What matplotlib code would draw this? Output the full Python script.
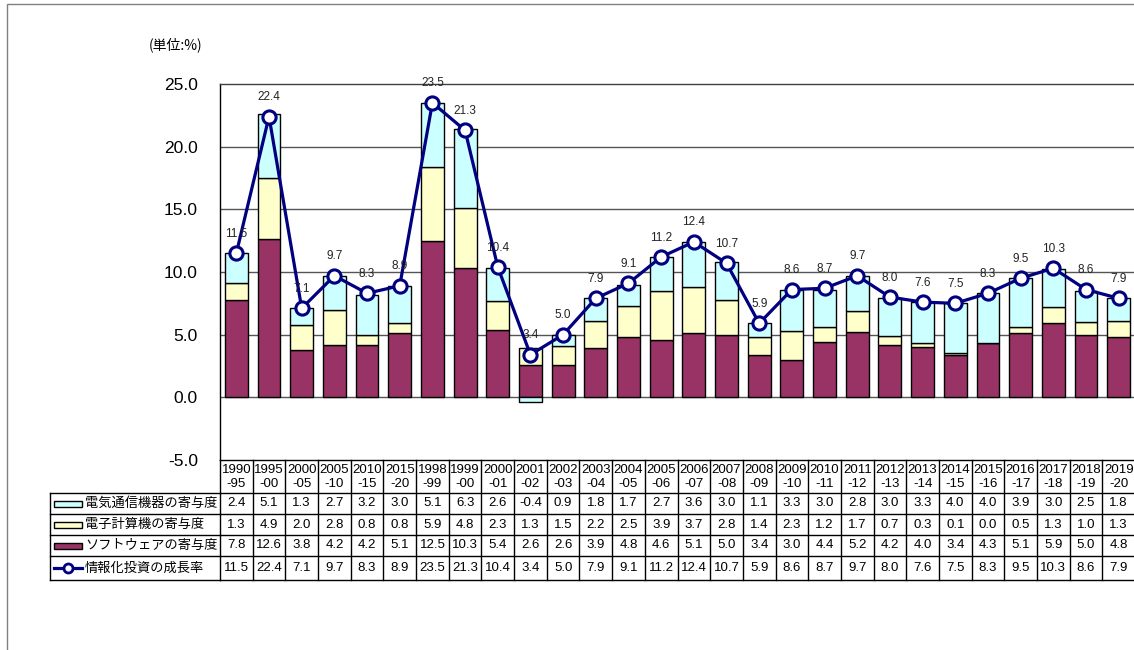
import matplotlib
matplotlib.use('Agg')
import matplotlib.pyplot as plt
from matplotlib.transforms import blended_transform_factory
from matplotlib.lines import Line2D
from matplotlib.patches import Rectangle
import numpy as np

# ---------------- data ----------------
periods = ["1990\n-95", "1995\n-00", "2000\n-05", "2005\n-10", "2010\n-15", "2015\n-20",
           "1998\n-99", "1999\n-00", "2000\n-01", "2001\n-02", "2002\n-03", "2003\n-04",
           "2004\n-05", "2005\n-06", "2006\n-07", "2007\n-08", "2008\n-09", "2009\n-10",
           "2010\n-11", "2011\n-12", "2012\n-13", "2013\n-14", "2014\n-15", "2015\n-16",
           "2016\n-17", "2017\n-18", "2018\n-19", "2019\n-20"]
telecom = [2.4, 5.1, 1.3, 2.7, 3.2, 3.0, 5.1, 6.3, 2.6, -0.4, 0.9, 1.8, 1.7, 2.7,
           3.6, 3.0, 1.1, 3.3, 3.0, 2.8, 3.0, 3.3, 4.0, 4.0, 3.9, 3.0, 2.5, 1.8]
computer = [1.3, 4.9, 2.0, 2.8, 0.8, 0.8, 5.9, 4.8, 2.3, 1.3, 1.5, 2.2, 2.5, 3.9,
            3.7, 2.8, 1.4, 2.3, 1.2, 1.7, 0.7, 0.3, 0.1, 0.0, 0.5, 1.3, 1.0, 1.3]
software = [7.8, 12.6, 3.8, 4.2, 4.2, 5.1, 12.5, 10.3, 5.4, 2.6, 2.6, 3.9, 4.8, 4.6,
            5.1, 5.0, 3.4, 3.0, 4.4, 5.2, 4.2, 4.0, 3.4, 4.3, 5.1, 5.9, 5.0, 4.8]
growth = [11.5, 22.4, 7.1, 9.7, 8.3, 8.9, 23.5, 21.3, 10.4, 3.4, 5.0, 7.9, 9.1, 11.2,
          12.4, 10.7, 5.9, 8.6, 8.7, 9.7, 8.0, 7.6, 7.5, 8.3, 9.5, 10.3, 8.6, 7.9]
series_names = ["電気通信機器の寄与度", "電子計算機の寄与度", "ソフトウェアの寄与度", "情報化投資の成長率"]
yticks = [-5, 0, 5, 10, 15, 20, 25]
unit_label = "(単位:%)"

# ---------------- style ----------------
C_TEL = '#CCFFFF'
C_COM = '#FFFFCC'
C_SOF = '#993366'
C_LINE = '#000080'
JP = ['Noto Sans CJK JP', 'DejaVu Sans']
NUM = ['Liberation Sans', 'DejaVu Sans']
plt.rcParams['font.family'] = NUM

W, H = 1134, 650
fig = plt.figure(figsize=(W / 100, H / 100), dpi=100)
fig.patch.set_facecolor('white')


def fx(px):
    return px / W


def fy(py):
    return 1 - py / H


# outer frame of the chart object (partly cut off)
fig.add_artist(Rectangle((fx(6.5), fy(700)), fx(1200), fy(3.5) - fy(700),
                         transform=fig.transFigure, fill=False,
                         edgecolor='#808080', lw=1.0))

ax = fig.add_axes([fx(220), fy(460), fx(1135) - fx(220), fy(84) - fy(460)])
n = len(periods)
x = np.arange(n)
tel = np.array(telecom)
com = np.array(computer)
sof = np.array(software)

bw = 0.7
ax.bar(x, sof, width=bw, color=C_SOF, edgecolor='black', lw=1.0, zorder=3)
ax.bar(x, com, width=bw, bottom=sof, color=C_COM, edgecolor='black', lw=1.0, zorder=3)
tel_bottom = np.where(tel >= 0, sof + com, 0)
ax.bar(x, tel, width=bw, bottom=tel_bottom, color=C_TEL, edgecolor='black', lw=1.0, zorder=3)

ax.plot(x, growth, color=C_LINE, lw=2.3, marker='o', ms=9.5, mfc='white',
        mec=C_LINE, mew=2.2, zorder=5, clip_on=False)
for xi, g in zip(x, growth):
    ax.annotate(f"{g:.1f}", (xi, g), xytext=(0, 14), textcoords='offset points',
                ha='center', va='center', fontsize=8.5, color='#222222', zorder=6)

ax.set_xlim(-0.5, n - 0.5)
ax.set_ylim(-5, 25)
ax.set_yticks(yticks)
ax.set_yticklabels([f"{v:.1f}" for v in yticks], fontsize=12.5)
ax.tick_params(axis='y', length=0, pad=16)
ax.set_xticks([])
for v in yticks[1:-1]:
    ax.axhline(v, color='#555555', lw=1.0, zorder=1)
for s in ['left', 'top', 'bottom']:
    ax.spines[s].set_color('black')
    ax.spines[s].set_linewidth(1.0)
ax.spines['top'].set_color('#404040')
ax.spines['right'].set_visible(False)

fig.text(fx(176), fy(45), unit_label, fontsize=10, family=JP, ha='center', va='center')

# ---------------- data table ----------------
tr = blended_transform_factory(ax.transData, fig.transFigure)
row_edges = [493, 514, 535, 556, 580]
header_top = 460
lab_left = 49.5
lab_right = 220

# vertical lines at category boundaries
for b in np.arange(-0.5, n + 0.5, 1.0):
    fig.add_artist(Line2D([b, b], [fy(header_top), fy(row_edges[-1])], transform=tr,
                          color='black', lw=1.0))
# horizontal lines across data columns
for r in row_edges:
    fig.add_artist(Line2D([-0.5, n], [fy(r), fy(r)], transform=tr, color='black', lw=1.0))
    fig.add_artist(Line2D([fx(lab_left), fx(lab_right)], [fy(r), fy(r)],
                          transform=fig.transFigure, color='black', lw=1.0))
fig.add_artist(Line2D([fx(lab_left), fx(lab_left)], [fy(row_edges[0]), fy(row_edges[-1])],
                      transform=fig.transFigure, color='black', lw=1.0))

# header labels
for xi, p in zip(x, periods):
    top, bot = p.split("\n")
    fig.text(xi, fy(470), top, transform=tr, ha='center', va='center', fontsize=9.5)
    fig.text(xi, fy(484), bot, transform=tr, ha='center', va='center', fontsize=9.5)

rows = [telecom, computer, software, growth]
for ri, vals in enumerate(rows):
    yc = (row_edges[ri] + row_edges[ri + 1]) / 2
    for xi, v in zip(x, vals):
        fig.text(xi, fy(yc), f"{v:.1f}", transform=tr, ha='center', va='center', fontsize=9.5)
    # legend key
    if ri < 3:
        col = [C_TEL, C_COM, C_SOF][ri]
        fig.add_artist(Rectangle((fx(54), fy(yc + 3)), fx(82) - fx(54), fy(yc - 3) - fy(yc + 3),
                                 transform=fig.transFigure, facecolor=col,
                                 edgecolor='black', lw=1.0))
    else:
        fig.add_artist(Line2D([fx(54), fx(82)], [fy(yc), fy(yc)], transform=fig.transFigure,
                              color=C_LINE, lw=2.3, marker='o', markevery=[1],
                              ms=0))
        fig.add_artist(Line2D([fx(68)], [fy(yc)], transform=fig.transFigure,
                              color=C_LINE, lw=0, marker='o', ms=6.5, mfc='white',
                              mec=C_LINE, mew=2.0))
    fig.text(fx(85), fy(yc), series_names[ri], family=JP, ha='left', va='center', fontsize=9.5)

fig.savefig('out.png', dpi=100, facecolor='white')
